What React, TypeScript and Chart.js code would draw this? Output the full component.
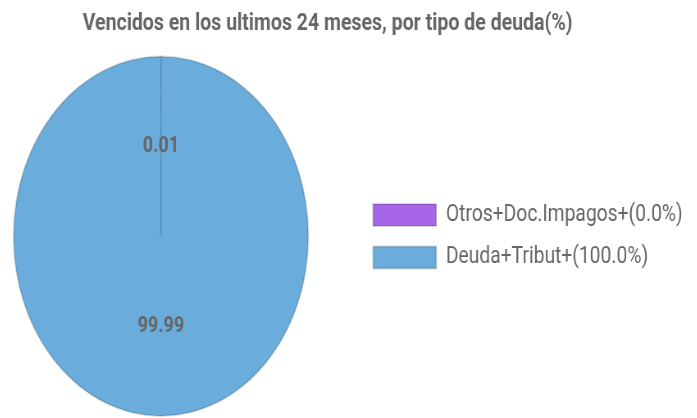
import React, { useEffect, useRef } from "react";
import { Chart, registerables } from "chart.js";

Chart.register(...registerables);

const titleText = "Vencidos en los ultimos 24 meses, por tipo de deuda(%)";
const categories = ["Otros+Doc.Impagos+(0.0%)", "Deuda+Tribut+(100.0%)"];
const values = [0.01, 99.99];
const valueLabels = ["0.01", "99.99"];
const colors = ["#a766e8", "#6aaddc"];

const sliceLabels = {
  id: "sliceLabels",
  afterDatasetsDraw(chart: any) {
    const ctx = chart.ctx;
    const meta = chart.getDatasetMeta(0);
    ctx.save();
    ctx.font = "bold 22px Roboto";
    ctx.fillStyle = "#666";
    ctx.textAlign = "center";
    ctx.textBaseline = "middle";
    meta.data.forEach((arc: any, i: number) => {
      const { x, y, startAngle, endAngle, outerRadius } = arc.getProps(
        ["x", "y", "startAngle", "endAngle", "outerRadius"],
        true
      );
      const mid = (startAngle + endAngle) / 2;
      const r = outerRadius / 2;
      ctx.fillText(valueLabels[i], x + Math.cos(mid) * r, y + Math.sin(mid) * r);
    });
    ctx.restore();
  },
};

export default function App() {
  const ref = useRef<HTMLCanvasElement | null>(null);
  useEffect(() => {
    if (!ref.current) return;
    const chart = new Chart(ref.current, {
      type: "pie",
      data: {
        labels: categories,
        datasets: [
          {
            data: values,
            backgroundColor: colors,
            borderColor: "rgba(0,0,0,0.15)",
            borderWidth: 2,
          },
        ],
      },
      options: {
        responsive: false,
        animation: false,
        layout: { padding: { top: 0, bottom: 1, left: 0, right: 0 } },
        plugins: {
          title: {
            display: true,
            text: titleText,
            color: "#666",
            font: { family: "Roboto", size: 23.8, weight: "bold" },
            padding: { top: 10, bottom: 17 },
          },
          legend: {
            position: "right",
            fullSize: false,
            labels: {
              color: "#666",
              font: { family: "Roboto", size: 23.5 },
              boxWidth: 77,
              boxHeight: 22,
              padding: 19,
            },
          },
          tooltip: { enabled: false },
        },
      },
      plugins: [sliceLabels],
    });
    return () => chart.destroy();
  }, []);
  return (
    <div
      style={{
        position: "fixed",
        left: 0,
        top: 0,
        width: 697,
        height: 418,
        overflow: "hidden",
        background: "#fff",
      }}
    >
      <canvas
        ref={ref}
        width={886}
        height={418}
        style={{
          display: "block",
          transformOrigin: "0 0",
          transform: "translateX(-35.6px) scaleX(0.82)",
        }}
      />
    </div>
  );
}
